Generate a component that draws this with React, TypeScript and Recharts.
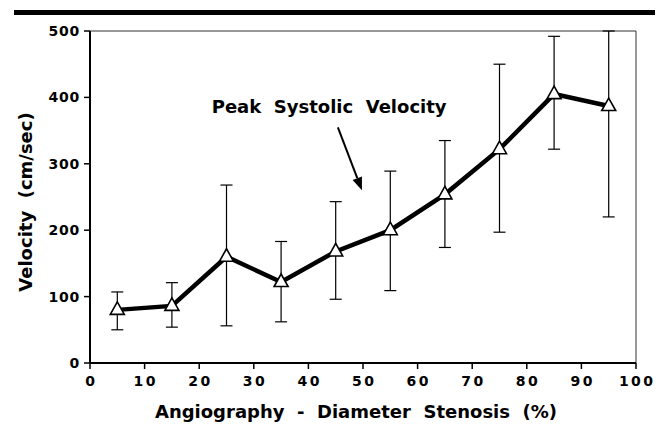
import React from 'react';
import { LineChart, Line, XAxis, YAxis, ErrorBar, ReferenceLine, ReferenceDot } from 'recharts';

const stenosis = [5, 15, 25, 35, 45, 55, 65, 75, 85, 95];
const velocity = [80, 86, 160, 122, 168, 200, 254, 322, 405, 387];
const lower = [50, 54, 56, 62, 96, 109, 174, 197, 322, 220];
const upper = [107, 121, 268, 183, 243, 289, 335, 450, 492, 500];
const xTicks = [0, 10, 20, 30, 40, 50, 60, 70, 80, 90, 100];
const yTicks = [0, 100, 200, 300, 400, 500];

const data = stenosis.map((s, i) => ({
  x: s,
  v: velocity[i],
  err: [velocity[i] - lower[i], upper[i] - velocity[i]],
}));

const FONT = '"DejaVu Sans", "Liberation Sans", Arial, sans-serif';

const Triangle = (props: any) => {
  const { cx, cy } = props;
  if (cx == null || cy == null) return null;
  const w = 7;
  const top = cy - 8;
  const bot = cy + 4.5;
  return (
    <polygon
      points={`${cx},${top} ${cx - w},${bot} ${cx + w},${bot}`}
      fill="#fff"
      stroke="#000"
      strokeWidth={1.6}
      strokeLinejoin="miter"
    />
  );
};

const XTick = (props: any) => {
  const { x, y, payload } = props;
  return (
    <text x={x} y={y} dy={13} dx={1.25} textAnchor="middle" fontFamily={FONT} fontWeight="bold" fontSize={14} letterSpacing={2.5} fill="#000">
      {String(payload.value)}
    </text>
  );
};

const YTick = (props: any) => {
  const { x, y, payload } = props;
  return (
    <text x={x} y={y} dy={5} textAnchor="end" fontFamily={FONT} fontWeight="bold" fontSize={14} letterSpacing={0.8} fill="#000">
      {payload.value}
    </text>
  );
};

const YLabel = (props: any) => {
  const vb = props.viewBox;
  const cx = vb.x + 25;
  const cy = vb.y + vb.height / 2 + 5;
  return (
    <text x={cx} y={cy} transform={`rotate(-90 ${cx} ${cy})`} textAnchor="middle" dominantBaseline="central" fontFamily={FONT} fontWeight="bold" fontSize={18} fill="#000" style={{ whiteSpace: 'pre' }}>
      {'Velocity  (cm/sec)'}
    </text>
  );
};

const XLabel = (props: any) => {
  const vb = props.viewBox;
  return (
    <text x={vb.x + vb.width / 2 - 7} y={vb.y + 55} textAnchor="middle" fontFamily={FONT} fontWeight="bold" fontSize={18} fill="#000" style={{ whiteSpace: 'pre' }}>
      {'Angiography  -  Diameter  Stenosis  (%)'}
    </text>
  );
};

const Arrow = (props: any) => {
  const { x1, y1, x2, y2 } = props;
  if (x1 == null) return null;
  const ang = Math.atan2(y2 - y1, x2 - x1);
  const len = 13;
  const half = 5;
  const bx = x2 - len * Math.cos(ang);
  const by = y2 - len * Math.sin(ang);
  const px = -Math.sin(ang) * half;
  const py = Math.cos(ang) * half;
  return (
    <g>
      <line x1={x1} y1={y1} x2={bx} y2={by} stroke="#000" strokeWidth={2} />
      <polygon points={`${x2},${y2} ${bx + px},${by + py} ${bx - px},${by - py}`} fill="#000" />
    </g>
  );
};

const AnnotationText = (props: any) => {
  const { cx, cy } = props;
  return (
    <text x={cx} y={cy} textAnchor="middle" dominantBaseline="central" fontFamily={FONT} fontWeight="bold" fontSize={18} fill="#000" style={{ whiteSpace: 'pre' }}>
      {'Peak  Systolic  Velocity'}
    </text>
  );
};

export default function App() {
  return (
    <div style={{ position: 'absolute', left: 0, top: 0, width: 658, height: 426, background: '#fff' }}>
      <div style={{ position: 'absolute', left: 14, top: 10, width: 641, height: 5, background: '#000' }} />
      <LineChart width={658} height={426} data={data} margin={{ top: 31, right: 22, bottom: 0, left: 0 }}>
        <XAxis
          dataKey="x"
          type="number"
          domain={[0, 100]}
          ticks={xTicks}
          interval={0}
          height={63}
          tickSize={6}
          tickMargin={4}
          axisLine={{ stroke: '#000', strokeWidth: 2 }}
          tickLine={{ stroke: '#000', strokeWidth: 1.5 }}
          tick={<XTick />}
          label={<XLabel />}
        />
        <YAxis
          type="number"
          domain={[0, 500]}
          ticks={yTicks}
          interval={0}
          width={90}
          tickSize={6}
          tickMargin={4}
          axisLine={{ stroke: '#000', strokeWidth: 2 }}
          tickLine={{ stroke: '#000', strokeWidth: 1.5 }}
          tick={<YTick />}
          label={<YLabel />}
        />
        <ReferenceLine y={500} stroke="#333" strokeWidth={1} />
        <ReferenceLine x={100} stroke="#333" strokeWidth={1} />
        <ReferenceLine segment={[{ x: 45.4, y: 355 }, { x: 49.8, y: 260 }]} shape={<Arrow />} />
        <ReferenceDot x={43.8} y={387} r={1} shape={<AnnotationText />} />
        <Line
          dataKey="v"
          stroke="#000"
          strokeWidth={4.5}
          dot={<Triangle />}
          activeDot={false}
          isAnimationActive={false}
        >
          <ErrorBar dataKey="err" width={6} stroke="#000" strokeWidth={1.2} direction="y" />
        </Line>
      </LineChart>
    </div>
  );
}
